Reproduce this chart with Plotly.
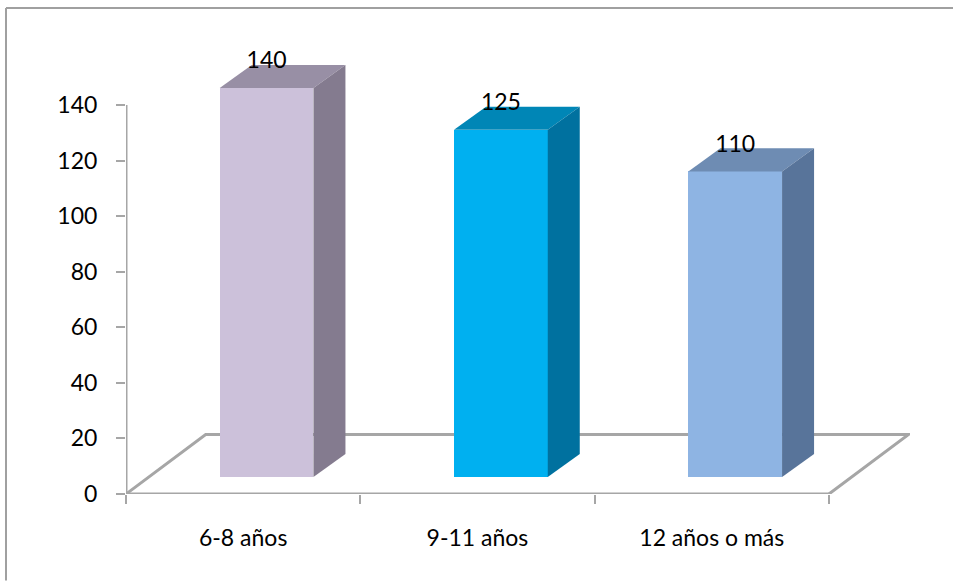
import plotly.graph_objects as go

categories = ["6-8 años", "9-11 años", "12 años o más"]
values = [140, 125, 110]
front_colors = ["#CCC1DA", "#00B0F0", "#8EB4E3"]
top_colors = ["#988FA5", "#0086B6", "#6E8CB3"]
side_colors = ["#847B8F", "#00719F", "#58749A"]
y_ticks = [0, 20, 40, 60, 80, 100, 120, 140]
x_dividers = [-0.5, 0.5, 1.5, 2.5]

# Pseudo-3D geometry, in data units
BAR_WIDTH = 0.40
BAR_SHIFT = 0.10
BAR_LIFT = 6.1
DEPTH_X = 0.1366
DEPTH_Y = 8.3
FLOOR_X = 0.34
FLOOR_Y = 21.4
LABEL_GAP = 9.2

W, H = 953, 581
L, R, T, B = 126, 43, 40, 86.5
GREY = "#A6A6A6"
FONT = dict(family="Lato", size=23, color="#000000")

x_min, x_max = -0.5, 2.846
y_min, y_max = 0, 163.4

fig = go.Figure()

centers = [i + BAR_SHIFT for i in range(len(values))]

# Front faces
fig.add_trace(go.Bar(
    x=centers,
    y=values,
    base=BAR_LIFT,
    width=BAR_WIDTH,
    marker=dict(color=front_colors, line=dict(width=0)),
    showlegend=False,
    hoverinfo="skip",
))

# Top and side faces follow each bar's value
for c, v, top_col, side_col in zip(centers, values, top_colors, side_colors):
    x0, x1 = c - BAR_WIDTH / 2, c + BAR_WIDTH / 2
    y1 = BAR_LIFT + v
    fig.add_trace(go.Scatter(
        x=[x0, x1, x1 + DEPTH_X, x0 + DEPTH_X, x0],
        y=[y1, y1, y1 + DEPTH_Y, y1 + DEPTH_Y, y1],
        mode="lines", fill="toself", fillcolor=top_col,
        line=dict(width=0), showlegend=False, hoverinfo="skip",
    ))
    fig.add_trace(go.Scatter(
        x=[x1, x1 + DEPTH_X, x1 + DEPTH_X, x1, x1],
        y=[BAR_LIFT, BAR_LIFT + DEPTH_Y, y1 + DEPTH_Y, y1, BAR_LIFT],
        mode="lines", fill="toself", fillcolor=side_col,
        line=dict(width=0), showlegend=False, hoverinfo="skip",
    ))

# Axis lines stop at the last tick; they sit on the plot edge, so no clipping
x_end = x_dividers[-1]
fig.add_trace(go.Scatter(
    x=[x_end, x_min, x_min],
    y=[0, 0, y_ticks[-1]],
    mode="lines", line=dict(color=GREY, width=3),
    cliponaxis=False, showlegend=False, hoverinfo="skip",
))

# Value labels
fig.add_trace(go.Scatter(
    x=centers,
    y=[v + BAR_LIFT + LABEL_GAP for v in values],
    text=[str(v) for v in values],
    mode="text", textposition="middle center", textfont=FONT,
    showlegend=False, hoverinfo="skip",
))


def line_path(points):
    return "M " + " L ".join(f"{x},{y}" for x, y in points)


floor = [
    (x_min, 0), (x_min + FLOOR_X, FLOOR_Y), (x_end + FLOOR_X, FLOOR_Y), (x_end, 0),
]
shapes = [dict(
    type="path", xref="x", yref="y", path=line_path(floor), layer="below",
    line=dict(color=GREY, width=3),
)]

# Chart frame: only the left and top edges fall inside the page
plot_w, plot_h = W - L - R, H - T - B
frame_x = (6 - L) / plot_w
frame_top = (H - B - 8) / plot_h
frame_bottom = (H - B - H) / plot_h
frame_right = (W - L) / plot_w
frame = dict(type="line", xref="paper", yref="paper", layer="below",
             line=dict(color="#A0A0A0", width=2))
shapes.append(dict(frame, x0=frame_x, x1=frame_x, y0=frame_bottom, y1=frame_top))
shapes.append(dict(frame, x0=frame_x, x1=frame_right, y0=frame_top, y1=frame_top))

fig.update_layout(
    width=W, height=H, autosize=False,
    margin=dict(l=L, r=R, t=T, b=B, pad=0),
    paper_bgcolor="white", plot_bgcolor="rgba(0,0,0,0)",
    font=FONT,
    shapes=shapes,
    bargap=0,
    xaxis=dict(
        range=[x_min, x_max], showgrid=False, zeroline=False, showline=False,
        tickmode="array", tickvals=[0, 1, 2], ticktext=categories,
        ticks="", ticklabelstandoff=28, tickfont=FONT,
        minor=dict(tickmode="array", tickvals=x_dividers, ticks="outside",
                   ticklen=9, tickwidth=1.5, tickcolor=GREY, showgrid=False),
    ),
    yaxis=dict(
        range=[y_min, y_max], showgrid=False, zeroline=False, showline=False,
        tickmode="array", tickvals=y_ticks,
        ticks="outside", ticklen=9, tickwidth=1.5, tickcolor=GREY,
        ticklabelstandoff=14, tickfont=FONT,
    ),
)

fig.write_html("out.html", config=dict(displayModeBar=False))
